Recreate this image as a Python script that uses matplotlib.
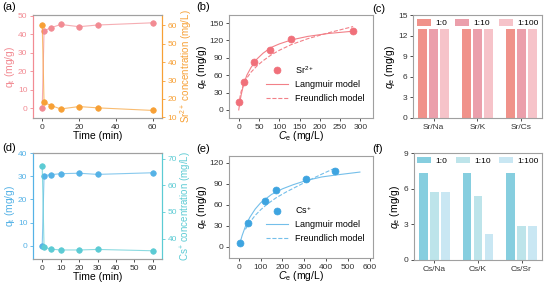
import matplotlib
matplotlib.use('Agg')
import matplotlib.pyplot as plt
import numpy as np

plt.rcParams['font.family'] = ['Liberation Sans', 'DejaVu Sans']
plt.rcParams['font.size'] = 6
plt.rcParams['mathtext.fontset'] = 'custom'
plt.rcParams['mathtext.rm'] = 'Liberation Sans'
plt.rcParams['mathtext.it'] = 'Liberation Sans:italic'

#---------------------------------------------------------------------------
#                               DATA
#---------------------------------------------------------------------------

time = [0, 1, 5, 10, 20, 30, 60]

# (a) Sr kinetics
qt_sr = [0, 41.8, 43.5, 45.2, 44.0, 44.9, 46.1]
conc_sr = [60.3, 18.1, 16.4, 14.6, 15.9, 15.2, 13.8]

# (b) Sr isotherm
ce_sr = [0, 12, 38, 78, 130, 282]
qe_sr = [13, 48, 83, 103, 123, 137]
lang_sr_x = [0, 3, 6, 12, 20, 30, 45, 60, 80, 100, 130, 170, 220, 282]
lang_sr_y = [0, 14, 26, 44, 60, 73, 88, 98, 108, 114, 121, 127, 132, 136]
freu_sr_x = [1, 3, 6, 12, 20, 30, 45, 60, 80, 100, 130, 170, 220, 282]
freu_sr_y = [8, 22, 32, 44, 55, 65, 76, 85, 95, 103, 113, 123, 133, 144]

# (c) Sr selectivity
groups_sr = ['Sr/Na', 'Sr/K', 'Sr/Cs']
ratios = ['1:0', '1:10', '1:100']
sel_sr = [[13, 13, 13],   # 1:0
          [13, 13, 13],   # 1:10
          [13, 13, 13]]   # 1:100

# (d) Cs kinetics
qt_cs = [0, 30.3, 30.7, 31.1, 31.3, 30.8, 31.5]
conc_cs = [67.3, 36.7, 36.0, 35.7, 35.7, 35.9, 35.4]

# (e) Cs isotherm
ce_cs = [5, 42, 118, 172, 310, 443]
qe_cs = [6, 34, 66, 81, 97, 108]
lang_cs_x = [5, 15, 30, 50, 75, 100, 150, 200, 250, 310, 380, 450, 555]
lang_cs_y = [5, 16, 29, 42, 54, 63, 75, 83, 89, 95, 100, 103, 107]
freu_cs_x = [30, 50, 75, 100, 130, 170, 220, 270, 320, 380, 443]
freu_cs_y = [25, 35, 45, 53, 61, 70, 79, 87, 95, 104, 113]

# (f) Cs selectivity
groups_cs = ['Cs/Na', 'Cs/K', 'Cs/Sr']
sel_cs = [[7.3, 7.3, 7.3],   # 1:0
          [5.7, 5.4, 2.85],  # 1:10
          [5.7, 2.2, 2.9]]   # 1:100

#---------------------------------------------------------------------------
#                               STYLE
#---------------------------------------------------------------------------

grey = '#a0a0a0'
pink = '#f28b93'
orange = '#f7a035'
blue_q = '#55b2e6'
cyan_c = '#5ccbd4'

W, H = 546, 284
fig = plt.figure(figsize=(W / 100, H / 100), dpi=100)


def axes_px(l, t, r, b):
    return fig.add_axes([l / W, 1 - b / H, (r - l) / W, (b - t) / H])


def panel_label(x, y, s):
    fig.text(x / W, 1 - y / H, s, fontsize=8, va='top', ha='left')


def style(ax, lc=grey, rc=grey):
    for s in ax.spines.values():
        s.set_color(grey)
        s.set_linewidth(0.8)
    ax.spines['left'].set_color(lc)
    ax.spines['right'].set_color(rc)
    ax.tick_params(direction='out', length=2.5, width=0.6, pad=1.5, labelsize=6)
    ax.tick_params(axis='x', colors='#333333')
    ax.tick_params(axis='y', colors=lc if lc != grey else '#333333')


def kinetics(ax, qt, conc, qcol, ccol, lims_l, lims_r, ticks_l, ticks_r, ion, xticks):
    ax2 = ax.twinx()
    ax.plot(time, qt, '-', color=qcol, lw=0.8, alpha=0.7)
    ax.plot(time, qt, 'o', ms=4, mfc=qcol, mec=qcol, mew=0.5)
    ax2.plot(time, conc, '-', color=ccol, lw=0.8, alpha=0.7)
    ax2.plot(time, conc, 'o', ms=4, mfc=ccol, mec=ccol, mew=0.5)
    ax.set_ylim(*lims_l)
    ax2.set_ylim(*lims_r)
    ax.set_yticks(ticks_l)
    ax2.set_yticks(ticks_r)
    ax.set_xlim(-5, 65)
    ax.set_xticks(xticks)
    style(ax, qcol, ccol)
    style(ax2, qcol, ccol)
    ax.tick_params(axis='y', colors=qcol)
    ax2.tick_params(axis='y', colors=ccol)
    ax.set_xlabel('Time (min)', fontsize=7.5, labelpad=0)
    ax.set_ylabel(r'q$_\mathrm{t}$ (mg/g)', color=qcol, fontsize=7.5, labelpad=1)
    ax2.set_ylabel(ion + ' concentration (mg/L)', color=ccol, fontsize=7, labelpad=1)


def isotherm(ax, ce, qe, lx, ly, fx, fy, mcol, lcol, ion, xlim, ylim, xticks, yticks):
    ax.plot(lx, ly, '-', color=lcol, lw=0.8, label='Langmuir model')
    ax.plot(fx, fy, '--', color=lcol, lw=0.8, label='Freundlich model')
    ax.plot(ce, qe, 'o', ms=5, mfc=mcol, mec=mcol, mew=0.5, label=ion, zorder=3)
    ax.set_xlim(*xlim)
    ax.set_ylim(*ylim)
    ax.set_xticks(xticks)
    ax.set_yticks(yticks)
    style(ax)
    ax.set_xlabel(r'$C_\mathrm{e}$ (mg/L)', fontsize=7.5, labelpad=-1)
    ax.set_ylabel(r'$q_\mathrm{e}$ (mg/g)', fontsize=7.5, labelpad=0)
    h, l = ax.get_legend_handles_labels()
    ax.legend([h[2], h[0], h[1]], [l[2], l[0], l[1]], loc='lower right',
              bbox_to_anchor=(1.0, 0.07), frameon=False, fontsize=6.5,
              handlelength=2.5, labelspacing=0.5)


def selectivity(ax, groups, vals, colors, ylim, yticks):
    x = np.arange(len(groups))
    for i, r in enumerate(ratios):
        ax.bar(x + (i - 1) * 0.25, vals[i], width=0.2, color=colors[i], label=r)
    ax.set_xlim(-0.47, 2.47)
    ax.set_ylim(*ylim)
    ax.set_xticks(x)
    ax.set_xticklabels(groups)
    ax.set_yticks(yticks)
    style(ax)
    ax.set_ylabel(r'$q_\mathrm{e}$ (mg/g)', fontsize=7.5, labelpad=1)
    ax.legend(loc='upper center', ncol=3, frameon=False, fontsize=6,
              handlelength=1.7, handleheight=0.75, columnspacing=1.0,
              bbox_to_anchor=(0.5, 1.03), handletextpad=0.5)


#---------------------------------------------------------------------------
#                               PANELS
#---------------------------------------------------------------------------

ax_a = axes_px(33, 15, 162, 118)
kinetics(ax_a, qt_sr, conc_sr, pink, orange, (-5.2, 50.3), (9.7, 65.5),
         [0, 10, 20, 30, 40, 50], [10, 20, 30, 40, 50, 60], r'Sr$^{2+}$',
         [0, 20, 40, 60])

ax_b = axes_px(229, 15, 373, 118)
isotherm(ax_b, ce_sr, qe_sr, lang_sr_x, lang_sr_y, freu_sr_x, freu_sr_y,
         '#f0707a', '#f28088', r'Sr$^{2+}$', (-24, 331), (-14, 164),
         [0, 50, 100, 150, 200, 250, 300], [0, 30, 60, 90, 120, 150])

ax_c = axes_px(413, 15, 542, 118)
selectivity(ax_c, groups_sr, sel_sr, ['#f0928a', '#eb9fab', '#f6c3c9'],
            (0, 15), [0, 3, 6, 9, 12, 15])

ax_d = axes_px(33, 153, 162, 259)
kinetics(ax_d, qt_cs, conc_cs, blue_q, cyan_c, (-5.6, 40), (32.3, 72.2),
         [0, 10, 20, 30, 40], [40, 50, 60, 70], r'Cs$^{+}$',
         [0, 10, 20, 30, 40, 50, 60])

ax_e = axes_px(229, 156, 373, 258)
isotherm(ax_e, ce_cs, qe_cs, lang_cs_x, lang_cs_y, freu_cs_x, freu_cs_y,
         '#3ea4e0', '#74bfea', r'Cs$^{+}$', (-45, 615), (-16, 130),
         [0, 100, 200, 300, 400, 500, 600], [0, 30, 60, 90, 120])

ax_f = axes_px(414, 153, 542, 260)
selectivity(ax_f, groups_cs, sel_cs, ['#86cedf', '#bde4ea', '#c9e7f3'],
            (0, 9), [0, 3, 6, 9])

panel_label(2, 2, '(a)')
panel_label(196, 2, '(b)')
panel_label(372, 4, '(c)')
panel_label(2, 143, '(d)')
panel_label(196, 144, '(e)')
panel_label(372, 144, '(f)')

plt.savefig('out.png', dpi=100)
plt.close()
